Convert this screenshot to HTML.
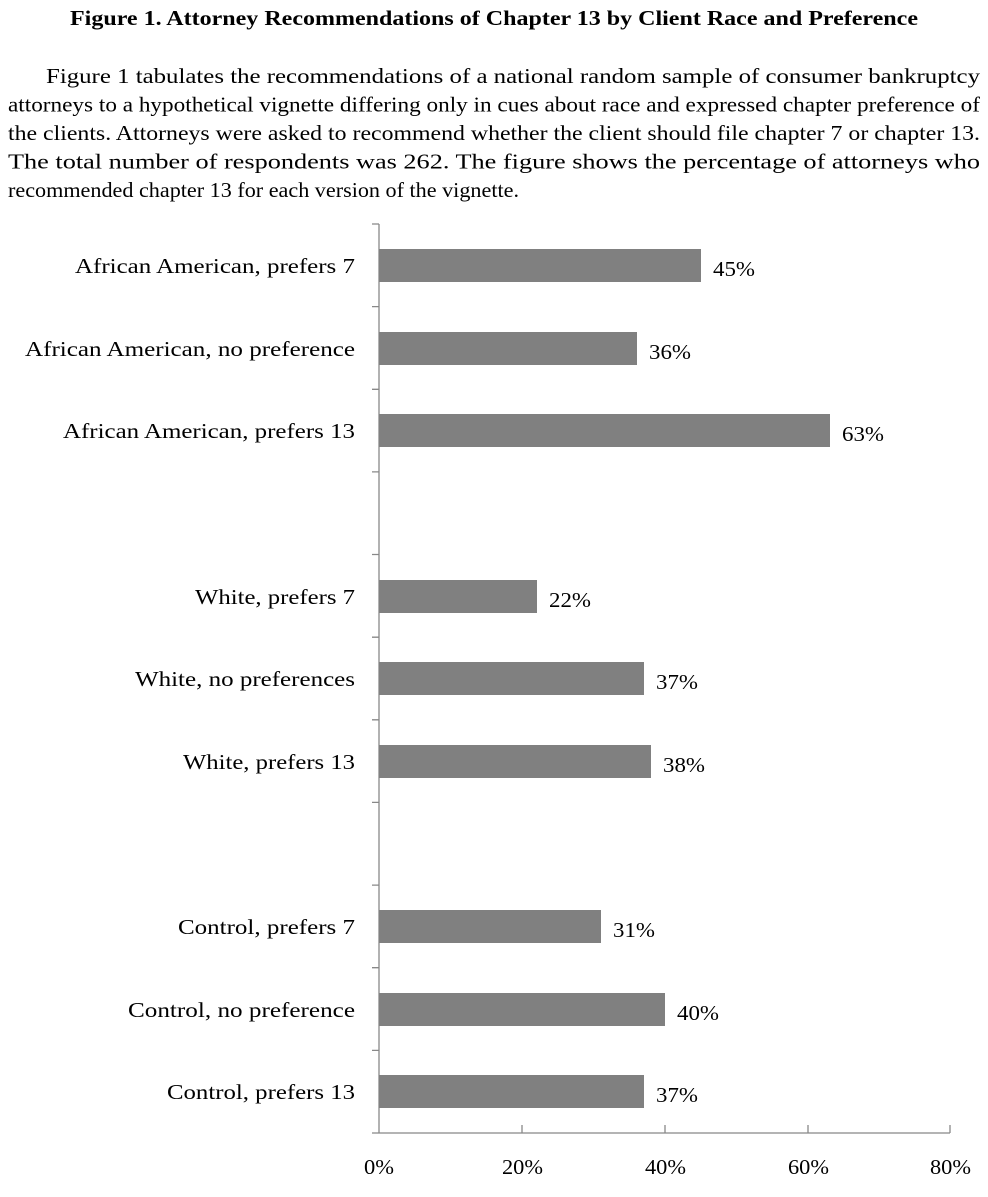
<!DOCTYPE html>
<html><head><meta charset="utf-8"><style>
body{margin:0;background:#fff;width:988px;height:1197px;overflow:hidden}
</style></head><body>
<svg width="988" height="1197" style="position:absolute;left:0;top:0" font-family="Liberation Serif, serif" font-size="21">
<text x="70" y="25" font-size="21" font-weight="bold" textLength="848" lengthAdjust="spacingAndGlyphs">Figure 1. Attorney Recommendations of Chapter 13 by Client Race and Preference</text>
<g font-size="21">
<text x="46" y="83" textLength="934" lengthAdjust="spacingAndGlyphs">Figure 1 tabulates the recommendations of a national random sample of consumer bankruptcy</text>
<text x="8" y="111.5" textLength="972" lengthAdjust="spacingAndGlyphs">attorneys to a hypothetical vignette differing only in cues about race and expressed chapter preference of</text>
<text x="8" y="140" textLength="972" lengthAdjust="spacingAndGlyphs">the clients. Attorneys were asked to recommend whether the client should file chapter 7 or chapter 13.</text>
<text x="8" y="168.5" textLength="972" lengthAdjust="spacingAndGlyphs">The total number of respondents was 262. The figure shows the percentage of attorneys who</text>
<text x="8" y="197" textLength="511" lengthAdjust="spacingAndGlyphs">recommended chapter 13 for each version of the vignette.</text>
</g>
<g stroke="#888" stroke-width="1.3" fill="none">
<line x1="379" y1="224" x2="379" y2="1133"/>
<line x1="372" y1="1133" x2="950" y2="1133"/>
<path d="M372 224H379M372 306.6H379M372 389.3H379M372 471.9H379M372 554.5H379M372 637.2H379M372 719.8H379M372 802.4H379M372 885.1H379M372 967.7H379M372 1050.4H379"/>
<path d="M522 1133V1125M665 1133V1125M808 1133V1125M950 1133V1125"/>
</g>
<g fill="#808080">
<rect x="379" y="249" width="322" height="33"/>
<rect x="379" y="332" width="258" height="33"/>
<rect x="379" y="414" width="451" height="33"/>
<rect x="379" y="580" width="158" height="33"/>
<rect x="379" y="662" width="265" height="33"/>
<rect x="379" y="745" width="272" height="33"/>
<rect x="379" y="910" width="222" height="33"/>
<rect x="379" y="993" width="286" height="33"/>
<rect x="379" y="1075" width="265" height="33"/>
</g>
<g>
<text x="75" y="273" textLength="280" lengthAdjust="spacingAndGlyphs">African American, prefers 7</text>
<text x="25" y="356" textLength="330" lengthAdjust="spacingAndGlyphs">African American, no preference</text>
<text x="63" y="438" textLength="292" lengthAdjust="spacingAndGlyphs">African American, prefers 13</text>
<text x="195" y="604" textLength="160" lengthAdjust="spacingAndGlyphs">White, prefers 7</text>
<text x="135" y="686" textLength="220" lengthAdjust="spacingAndGlyphs">White, no preferences</text>
<text x="183" y="769" textLength="172" lengthAdjust="spacingAndGlyphs">White, prefers 13</text>
<text x="178" y="934" textLength="177" lengthAdjust="spacingAndGlyphs">Control, prefers 7</text>
<text x="128" y="1017" textLength="227" lengthAdjust="spacingAndGlyphs">Control, no preference</text>
<text x="167" y="1099" textLength="188" lengthAdjust="spacingAndGlyphs">Control, prefers 13</text>
</g>
<g>
<text x="713" y="276" textLength="42" lengthAdjust="spacingAndGlyphs">45%</text>
<text x="649" y="359" textLength="42" lengthAdjust="spacingAndGlyphs">36%</text>
<text x="842" y="441" textLength="42" lengthAdjust="spacingAndGlyphs">63%</text>
<text x="549" y="607" textLength="42" lengthAdjust="spacingAndGlyphs">22%</text>
<text x="656" y="689" textLength="42" lengthAdjust="spacingAndGlyphs">37%</text>
<text x="663" y="772" textLength="42" lengthAdjust="spacingAndGlyphs">38%</text>
<text x="613" y="937" textLength="42" lengthAdjust="spacingAndGlyphs">31%</text>
<text x="677" y="1020" textLength="42" lengthAdjust="spacingAndGlyphs">40%</text>
<text x="656" y="1102" textLength="42" lengthAdjust="spacingAndGlyphs">37%</text>
</g>
<g>
<text x="364" y="1174" textLength="30" lengthAdjust="spacingAndGlyphs">0%</text>
<text x="502" y="1174" textLength="41" lengthAdjust="spacingAndGlyphs">20%</text>
<text x="645" y="1174" textLength="41" lengthAdjust="spacingAndGlyphs">40%</text>
<text x="788" y="1174" textLength="41" lengthAdjust="spacingAndGlyphs">60%</text>
<text x="930" y="1174" textLength="41" lengthAdjust="spacingAndGlyphs">80%</text>
</g>
</svg>
</body></html>
